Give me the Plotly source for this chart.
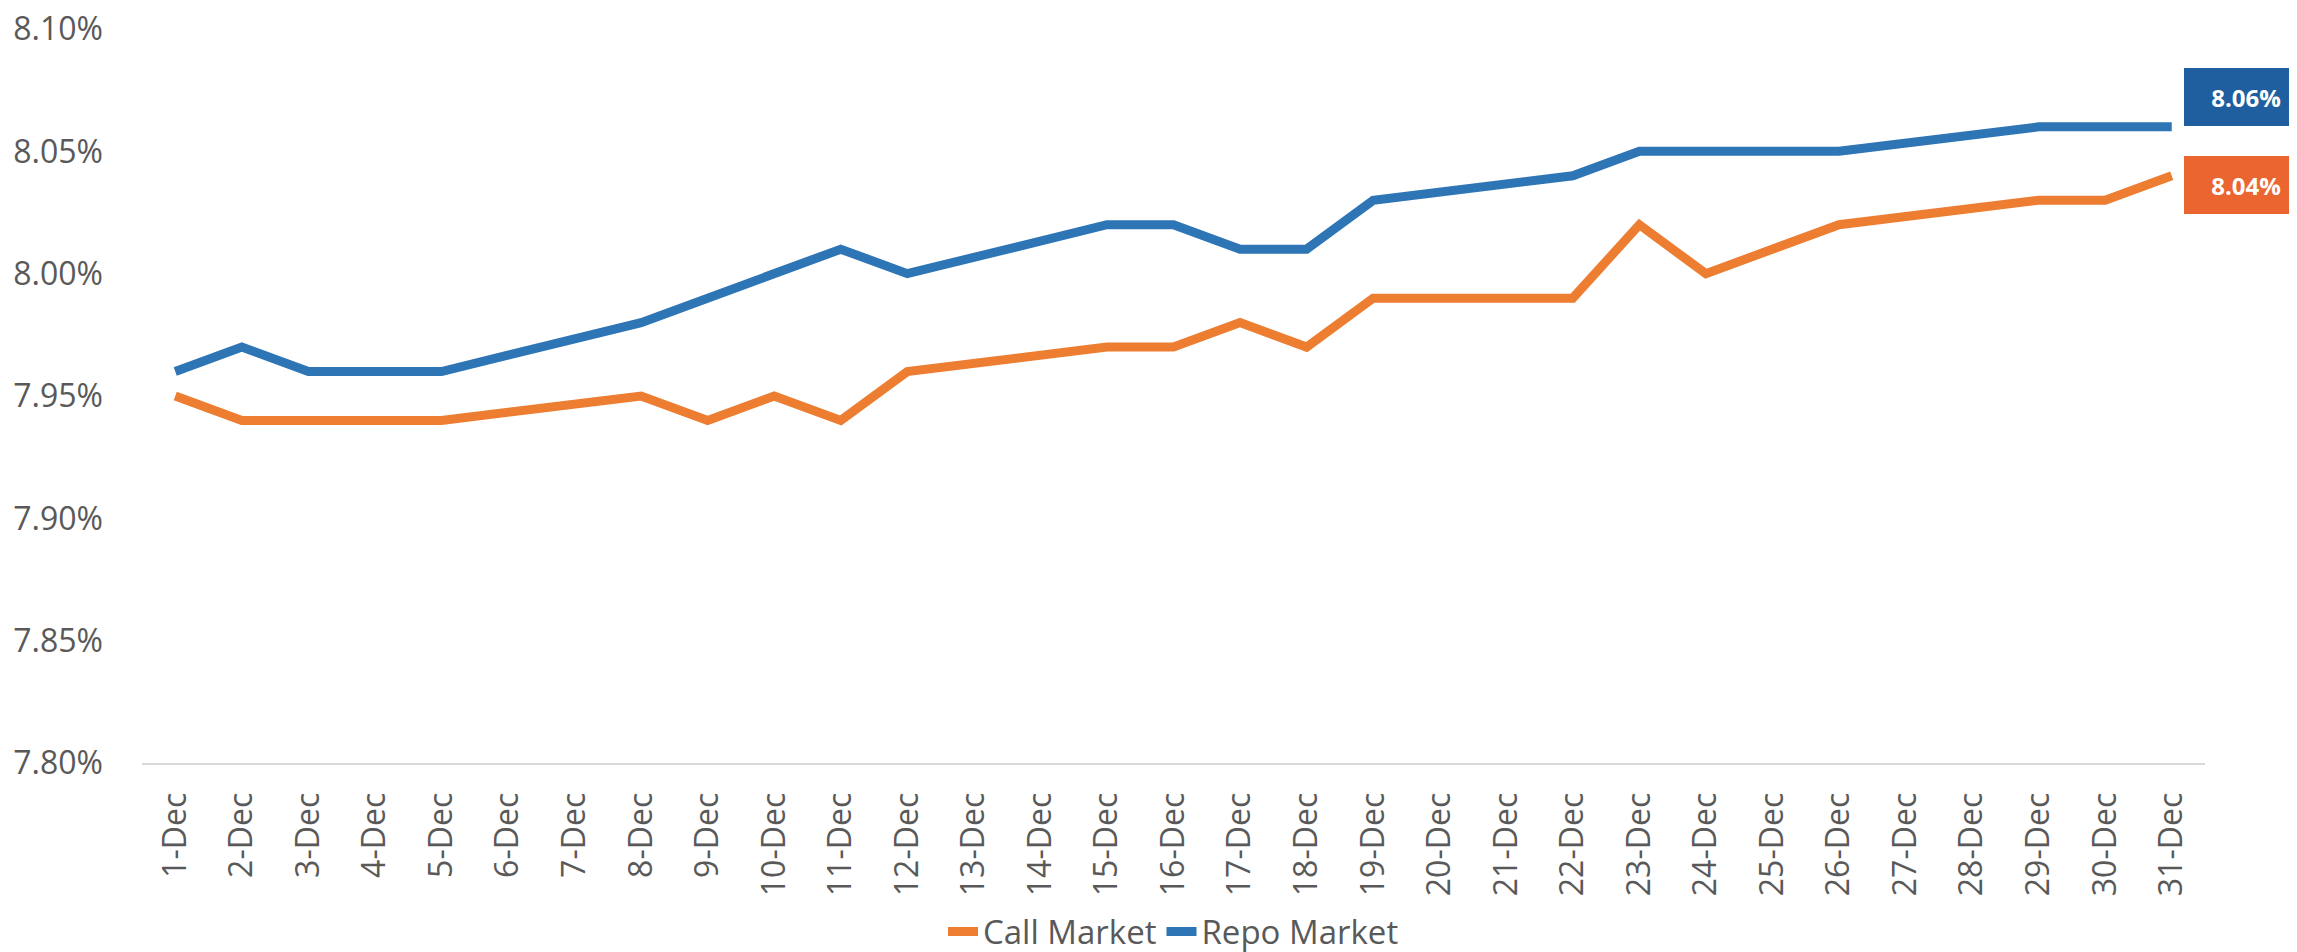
import plotly.graph_objects as go

days = [f"{d}-Dec" for d in range(1, 32)]

# None = no quote that day (weekend / holiday), line bridges the gap
call_market = [7.95, 7.94, 7.94, 7.94, 7.94, None, None, 7.95, 7.94, 7.95,
               7.94, 7.96, None, None, 7.97, 7.97, 7.98, 7.97, 7.99, None,
               None, 7.99, 8.02, 8.00, None, 8.02, None, None, 8.03, 8.03,
               8.04]
repo_market = [7.96, 7.97, 7.96, 7.96, 7.96, None, None, 7.98, 7.99, 8.00,
               8.01, 8.00, None, None, 8.02, 8.02, 8.01, 8.01, 8.03, None,
               None, 8.04, 8.05, 8.05, None, 8.05, None, None, 8.06, 8.06,
               8.06]
y_ticks = [7.80, 7.85, 7.90, 7.95, 8.00, 8.05, 8.10]

CALL_COLOR = "#ED7D31"
REPO_COLOR = "#2E75B6"
CALL_LABEL_COLOR = "#EB6530"
REPO_LABEL_COLOR = "#1F5F9F"
TEXT_COLOR = "#595959"
FONT = "Open Sans"

fig = go.Figure()

fig.add_trace(
    go.Scatter(
        x=days,
        y=call_market,
        mode="lines",
        name="Call Market",
        connectgaps=True,
        line=dict(color=CALL_COLOR, width=9),
    )
)

fig.add_trace(
    go.Scatter(
        x=days,
        y=repo_market,
        mode="lines",
        name="Repo Market",
        connectgaps=True,
        line=dict(color=REPO_COLOR, width=9),
    )
)

# end-of-series value boxes
for series, color, yshift in ((repo_market, REPO_LABEL_COLOR, 30), (call_market, CALL_LABEL_COLOR, -9)):
    fig.add_annotation(
        x=days[-1],
        y=series[-1],
        text=f"<b>{series[-1]:.2f}%</b>",
        showarrow=False,
        xanchor="left",
        xshift=12,
        yshift=yshift,
        width=100,
        height=34,
        bgcolor=color,
        bordercolor=color,
        borderpad=11,
        font=dict(family=FONT, size=24, color="white"),
    )

fig.update_layout(
    width=2297,
    height=952,
    plot_bgcolor="white",
    paper_bgcolor="white",
    font=dict(family=FONT, color=TEXT_COLOR),
    margin=dict(l=134, r=100, t=21, b=197, autoexpand=False),
    showlegend=True,
    legend=dict(
        orientation="h",
        x=0.5,
        xanchor="center",
        yref="container",
        y=0.03,
        yanchor="middle",
        font=dict(size=33, color=TEXT_COLOR),
    ),
)

fig.update_xaxes(
    type="category",
    range=[-0.5, 30.5],
    tickangle=-90,
    tickfont=dict(size=32, color=TEXT_COLOR),
    showgrid=False,
    showline=True,
    linecolor="#D9D9D9",
    linewidth=2,
    ticks="",
    ticklabelstandoff=15,
    automargin=False,
)

fig.update_yaxes(
    range=[7.80, 8.10],
    tickvals=y_ticks,
    ticktext=[f"{v:.2f}%" for v in y_ticks],
    tickfont=dict(size=32, color=TEXT_COLOR),
    ticklabeloverflow="allow",
    showgrid=False,
    zeroline=False,
    ticklabelstandoff=38,
    automargin=False,
)

fig.write_html("out.html")
